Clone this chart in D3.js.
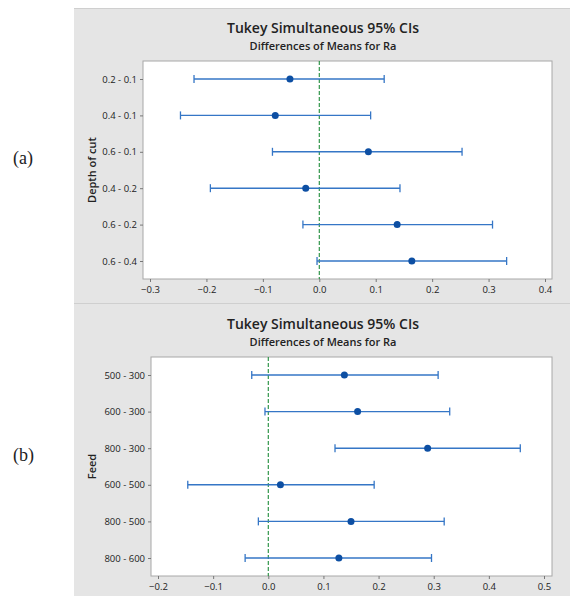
<!DOCTYPE html>
<html>
<head>
<meta charset="utf-8">
<script src="https://cdn.jsdelivr.net/npm/d3@7"></script>
<style>
  body { margin: 0; background: #fff; }
  svg text { font-family: "Open Sans", "Noto Sans", sans-serif; fill: #222; }
</style>
</head>
<body>
<svg id="chart" width="570" height="596"></svg>
<script>
// panel (a): depth of cut
const cutPairs = ['0.2 - 0.1', '0.4 - 0.1', '0.6 - 0.1', '0.4 - 0.2', '0.6 - 0.2', '0.6 - 0.4'];
const cutLower = [-0.222, -0.246, -0.083, -0.193, -0.029, -0.004];
const cutMean  = [-0.052, -0.078, 0.087, -0.024, 0.138, 0.164];
const cutUpper = [0.115, 0.091, 0.253, 0.143, 0.307, 0.332];
const cutTicks = [-0.3, -0.2, -0.1, 0.0, 0.1, 0.2, 0.3, 0.4];

// panel (b): feed
const feedPairs = ['500 - 300', '600 - 300', '800 - 300', '600 - 500', '800 - 500', '800 - 600'];
const feedLower = [-0.030, -0.006, 0.121, -0.146, -0.018, -0.042];
const feedMean  = [0.138, 0.162, 0.289, 0.022, 0.150, 0.128];
const feedUpper = [0.308, 0.329, 0.457, 0.192, 0.319, 0.296];
const feedTicks = [-0.2, -0.1, 0.0, 0.1, 0.2, 0.3, 0.4, 0.5];

const svg = d3.select('#chart');

function drawPanel(opt) {
  const g = svg.append('g').attr('transform', `translate(0,${opt.top})`);

  // gray backdrop
  g.append('rect')
    .attr('x', 74).attr('y', 0)
    .attr('width', 570 - 74).attr('height', opt.height)
    .attr('fill', '#e5e5e5');
  g.append('line')
    .attr('x1', 74).attr('x2', 570).attr('y1', 0.5).attr('y2', 0.5)
    .attr('stroke', '#cfcfcf');

  g.append('text')
    .attr('x', 323).attr('y', opt.titleY)
    .attr('text-anchor', 'middle')
    .style('font-size', '14px').style('font-weight', 600)
    .text('Tukey Simultaneous 95% CIs');
  g.append('text')
    .attr('x', 323).attr('y', opt.titleY + 17)
    .attr('text-anchor', 'middle')
    .style('font-size', '11px').style('font-weight', 600)
    .text('Differences of Means for Ra');

  const pl = opt.plot;
  g.append('rect')
    .attr('x', pl.x0).attr('y', pl.y0)
    .attr('width', pl.x1 - pl.x0).attr('height', pl.y1 - pl.y0)
    .attr('fill', '#fff').attr('stroke', '#a8a8a8');

  const x = d3.scaleLinear().domain(opt.xDomain).range(opt.xRange);
  const y = d3.scalePoint().domain(opt.pairs).range(opt.yRange);

  const xAxis = g.append('g')
    .attr('transform', `translate(0,${pl.y1})`)
    .call(d3.axisBottom(x).tickValues(opt.ticks).tickSize(3).tickPadding(4).tickFormat(d3.format('.1f')));
  xAxis.select('.domain').remove();
  xAxis.selectAll('line').attr('stroke', '#777');
  xAxis.selectAll('text').style('font-size', '9.5px').attr('fill', '#222');

  const yAxis = g.append('g')
    .attr('transform', `translate(${pl.x0},0)`)
    .call(d3.axisLeft(y).tickSize(3).tickPadding(3));
  yAxis.select('.domain').remove();
  yAxis.selectAll('line').attr('stroke', '#777');
  yAxis.selectAll('text').style('font-size', '9.5px').attr('fill', '#222');

  g.append('text')
    .attr('transform', `translate(96,${(pl.y0 + pl.y1) / 2}) rotate(-90)`)
    .attr('text-anchor', 'middle')
    .style('font-size', '11px').style('font-weight', 600)
    .text(opt.yLabel);

  // zero reference
  g.append('line')
    .attr('x1', x(0)).attr('x2', x(0))
    .attr('y1', pl.y0).attr('y2', pl.y1)
    .attr('stroke', '#1e8c3a').attr('stroke-width', 1.1)
    .attr('stroke-dasharray', '4,2');

  const rows = g.append('g').selectAll('g')
    .data(opt.pairs).join('g');
  const blue = '#3576c6';
  rows.append('line')
    .attr('x1', (d, i) => x(opt.lower[i])).attr('x2', (d, i) => x(opt.upper[i]))
    .attr('y1', d => y(d)).attr('y2', d => y(d))
    .attr('stroke', blue).attr('stroke-width', 1.4);
  rows.append('line')
    .attr('x1', (d, i) => x(opt.lower[i])).attr('x2', (d, i) => x(opt.lower[i]))
    .attr('y1', d => y(d) - 4).attr('y2', d => y(d) + 4)
    .attr('stroke', blue).attr('stroke-width', 1.3);
  rows.append('line')
    .attr('x1', (d, i) => x(opt.upper[i])).attr('x2', (d, i) => x(opt.upper[i]))
    .attr('y1', d => y(d) - 4).attr('y2', d => y(d) + 4)
    .attr('stroke', blue).attr('stroke-width', 1.3);
  rows.append('circle')
    .attr('cx', (d, i) => x(opt.mean[i])).attr('cy', d => y(d))
    .attr('r', 3.5).attr('fill', '#0d4fa3');

  svg.append('text')
    .attr('x', 13).attr('y', opt.top + opt.tagY)
    .style('font-family', '"Liberation Serif", "DejaVu Serif", serif')
    .style('font-size', '18px')
    .text(opt.tag);
}

drawPanel({
  top: 8, height: 295, titleY: 25,
  plot: { x0: 143, x1: 552, y0: 53, y1: 271 },
  xDomain: [-0.3, 0.4], xRange: [150, 545],
  yRange: [71, 253],
  pairs: cutPairs, lower: cutLower, mean: cutMean, upper: cutUpper,
  ticks: cutTicks, yLabel: 'Depth of cut', tag: '(a)', tagY: 156
});

drawPanel({
  top: 303, height: 293, titleY: 26,
  plot: { x0: 151, x1: 552, y0: 54, y1: 273 },
  xDomain: [-0.2, 0.5], xRange: [158, 544],
  yRange: [72, 255],
  pairs: feedPairs, lower: feedLower, mean: feedMean, upper: feedUpper,
  ticks: feedTicks, yLabel: 'Feed', tag: '(b)', tagY: 158
});
</script>
</body>
</html>
